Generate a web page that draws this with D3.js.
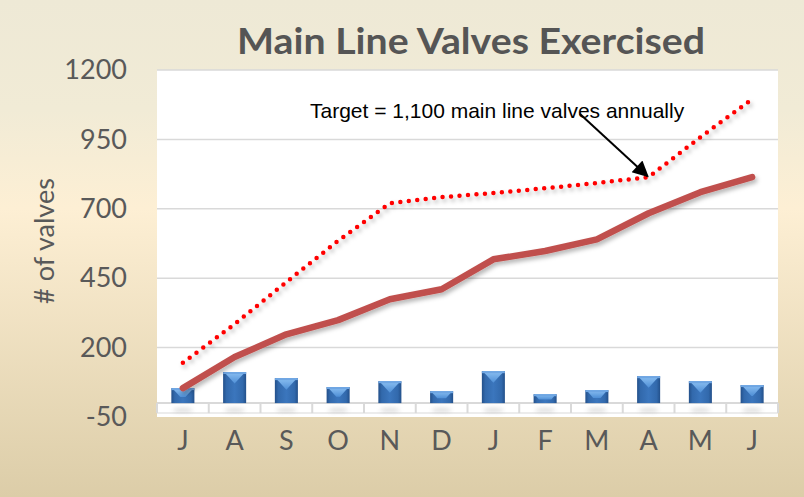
<!DOCTYPE html>
<html>
<head>
<meta charset="utf-8">
<script src="https://cdn.jsdelivr.net/npm/d3@7"></script>
<style>
  html, body { margin: 0; padding: 0; background: #fff; }
  svg { display: block; }
</style>
</head>
<body>
<div id="chart"></div>
<script>
// --- Data ---
const months = ['J', 'A', 'S', 'O', 'N', 'D', 'J', 'F', 'M', 'A', 'M', 'J'];
const monthly = [54, 112, 90, 58, 79, 43, 115, 32, 47, 97, 79, 65];
const cumulative = [54, 166, 248, 299, 374, 410, 518, 548, 590, 684, 760, 814];
const target = [145, 285, 436, 585, 720, 742, 757, 774, 793, 814, 958, 1095];
const yTicks = [-50, 200, 450, 700, 950, 1200];

const W = 804, H = 497;
const plot = { left: 157, right: 778, top: 70, bottom: 417 };
const grey = '#595959';

const svg = d3.select('#chart').append('svg')
    .attr('width', W)
    .attr('height', H);

const defs = svg.append('defs');

// background gradient
const bg = defs.append('linearGradient').attr('id', 'bg')
    .attr('x1', 0).attr('y1', 0).attr('x2', 0).attr('y2', 1);
bg.append('stop').attr('offset', '0%').attr('stop-color', '#eee9d6');
bg.append('stop').attr('offset', '22%').attr('stop-color', '#f1ebd6');
bg.append('stop').attr('offset', '42%').attr('stop-color', '#fdefd4');
bg.append('stop').attr('offset', '100%').attr('stop-color', '#dccda8');

// bar body gradient
const barGrad = defs.append('linearGradient').attr('id', 'barGrad')
    .attr('x1', 0).attr('y1', 0).attr('x2', 1).attr('y2', 0);
barGrad.append('stop').attr('offset', '0%').attr('stop-color', '#23508a');
barGrad.append('stop').attr('offset', '15%').attr('stop-color', '#3269ac');
barGrad.append('stop').attr('offset', '50%').attr('stop-color', '#3b76bd');
barGrad.append('stop').attr('offset', '85%').attr('stop-color', '#3269ac');
barGrad.append('stop').attr('offset', '100%').attr('stop-color', '#23508a');

const bevelGrad = defs.append('linearGradient').attr('id', 'bevelGrad')
    .attr('x1', 0).attr('y1', 0).attr('x2', 0).attr('y2', 1);
bevelGrad.append('stop').attr('offset', '0%').attr('stop-color', '#8cc0f2');
bevelGrad.append('stop').attr('offset', '100%').attr('stop-color', '#4f8fd6');

const shadow = defs.append('filter').attr('id', 'shadow')
    .attr('x', '-10%').attr('y', '-10%').attr('width', '130%').attr('height', '130%');
shadow.append('feDropShadow')
    .attr('dx', 2).attr('dy', 3).attr('stdDeviation', 2)
    .attr('flood-color', '#000').attr('flood-opacity', 0.28);

const blur = defs.append('filter').attr('id', 'blur')
    .attr('x', '-50%').attr('y', '-100%').attr('width', '200%').attr('height', '300%');
blur.append('feGaussianBlur').attr('stdDeviation', 2);

defs.append('marker').attr('id', 'arrow')
    .attr('viewBox', '0 0 10 10')
    .attr('refX', 9).attr('refY', 5)
    .attr('markerWidth', 9).attr('markerHeight', 8)
    .attr('markerUnits', 'strokeWidth')
    .attr('orient', 'auto')
    .append('path')
    .attr('d', 'M0,0 L10,5 L0,10 Z')
    .attr('fill', '#000');

svg.append('rect')
    .attr('width', W).attr('height', H)
    .attr('fill', 'url(#bg)');

// --- Scales ---
const x = d3.scaleBand()
    .domain(d3.range(months.length))
    .range([plot.left, plot.right])
    .paddingInner(0.555)
    .paddingOuter(0.2775);
const step = x.step();
const cx = i => x(i) + x.bandwidth() / 2;

const y = d3.scaleLinear()
    .domain([-50, 1200])
    .range([plot.bottom, plot.top]);

// plot area
svg.append('rect')
    .attr('x', plot.left).attr('y', plot.top)
    .attr('width', plot.right - plot.left)
    .attr('height', plot.bottom - plot.top)
    .attr('fill', '#fff');

// gridlines
svg.append('g')
    .selectAll('line')
    .data(yTicks.filter(d => d > -50))
    .join('line')
    .attr('x1', plot.left).attr('x2', plot.right)
    .attr('y1', d => y(d)).attr('y2', d => y(d))
    .attr('stroke', '#d9d9d9')
    .attr('stroke-width', 1.5);

// y axis labels
const yAxis = svg.append('g')
    .attr('transform', `translate(${plot.left - 30},0)`)
    .call(d3.axisLeft(y).tickValues(yTicks).tickSize(0).tickPadding(0).tickFormat(d => String(d)));
yAxis.select('.domain').remove();
yAxis.selectAll('text')
    .attr('fill', grey)
    .style('font-family', 'Lato, "Open Sans", sans-serif')
    .style('font-size', '27px');

// x axis: line at zero, boundary ticks, labels
const x0 = y(0);
svg.append('line')
    .attr('x1', plot.left).attr('x2', plot.right)
    .attr('y1', x0).attr('y2', x0)
    .attr('stroke', '#d9d9d9').attr('stroke-width', 2);
svg.append('line')
    .attr('x1', plot.left).attr('x2', plot.right)
    .attr('y1', x0 + 10).attr('y2', x0 + 10)
    .attr('stroke', '#e6e6e6').attr('stroke-width', 1.5);
svg.append('g')
    .selectAll('line')
    .data(d3.range(months.length + 1))
    .join('line')
    .attr('x1', i => plot.left + i * step).attr('x2', i => plot.left + i * step)
    .attr('y1', x0).attr('y2', x0 + 10)
    .attr('stroke', '#d9d9d9').attr('stroke-width', 2);

const xAxis = svg.append('g')
    .attr('transform', `translate(0,${plot.bottom + 14})`)
    .call(d3.axisBottom(x).tickSize(0).tickPadding(0).tickFormat(i => months[i]));
xAxis.select('.domain').remove();
xAxis.selectAll('text')
    .attr('fill', grey)
    .style('font-family', 'Lato, "Open Sans", sans-serif')
    .style('font-size', '27px');

// bar reflections below axis
svg.append('g')
    .selectAll('ellipse')
    .data(monthly)
    .join('ellipse')
    .attr('cx', (d, i) => cx(i))
    .attr('cy', x0 + 7)
    .attr('rx', x.bandwidth() / 2 - 1)
    .attr('ry', 2)
    .attr('fill', '#888')
    .attr('opacity', 0.3)
    .attr('filter', 'url(#blur)');

// bars
const bars = svg.append('g')
    .selectAll('g')
    .data(monthly)
    .join('g');

bars.append('rect')
    .attr('x', (d, i) => x(i))
    .attr('y', d => y(d))
    .attr('width', x.bandwidth())
    .attr('height', d => y(0) - y(d))
    .attr('fill', 'url(#barGrad)');

bars.append('polygon')
    .attr('points', (d, i) => {
        const bw = x.bandwidth();
        const left = x(i), top = y(d);
        const depth = Math.min(bw / 2, (y(0) - y(d)) * 0.6);
        return [
            [left + 1, top],
            [left + bw - 1, top],
            [left + bw - depth, top + depth],
            [left + depth, top + depth]
        ].map(p => p.join(',')).join(' ');
    })
    .attr('fill', 'url(#bevelGrad)');

bars.append('rect')
    .attr('x', (d, i) => x(i))
    .attr('y', d => y(d))
    .attr('width', x.bandwidth())
    .attr('height', 2)
    .attr('fill', '#6fa6e3');

// target line (dotted)
const line = d3.line()
    .x((d, i) => cx(i))
    .y(d => y(d));

svg.append('path')
    .datum(target)
    .attr('d', line)
    .attr('fill', 'none')
    .attr('stroke', '#ff0000')
    .attr('stroke-width', 4.5)
    .attr('stroke-linecap', 'round')
    .attr('stroke-dasharray', '0 8.5')
    .attr('filter', 'url(#shadow)');

// cumulative line
svg.append('path')
    .datum(cumulative)
    .attr('d', line)
    .attr('fill', 'none')
    .attr('stroke', '#c0504d')
    .attr('stroke-width', 6.5)
    .attr('stroke-linecap', 'round')
    .attr('stroke-linejoin', 'round')
    .attr('filter', 'url(#shadow)');

// title
svg.append('text')
    .attr('x', 471)
    .attr('y', 54)
    .attr('text-anchor', 'middle')
    .attr('fill', '#555')
    .attr('textLength', 468)
    .attr('lengthAdjust', 'spacingAndGlyphs')
    .style('font-family', 'Lato, "Open Sans", sans-serif')
    .style('font-weight', 'bold')
    .style('font-size', '36px')
    .text('Main Line Valves Exercised');

// y axis title
svg.append('text')
    .attr('transform', `translate(54,241) rotate(-90)`)
    .attr('text-anchor', 'middle')
    .attr('fill', grey)
    .style('font-family', 'Lato, "Open Sans", sans-serif')
    .style('font-size', '27px')
    .text('# of valves');

// annotation
svg.append('text')
    .attr('x', 310)
    .attr('y', 118)
    .attr('fill', '#000')
    .style('font-family', '"Liberation Sans", Arial, sans-serif')
    .style('font-size', '21px')
    .text('Target = 1,100 main line valves annually');

svg.append('line')
    .attr('x1', 580).attr('y1', 114)
    .attr('x2', cx(9) - 1).attr('y2', y(target[9]) - 1)
    .attr('stroke', '#000')
    .attr('stroke-width', 2)
    .attr('marker-end', 'url(#arrow)');
</script>
</body>
</html>
